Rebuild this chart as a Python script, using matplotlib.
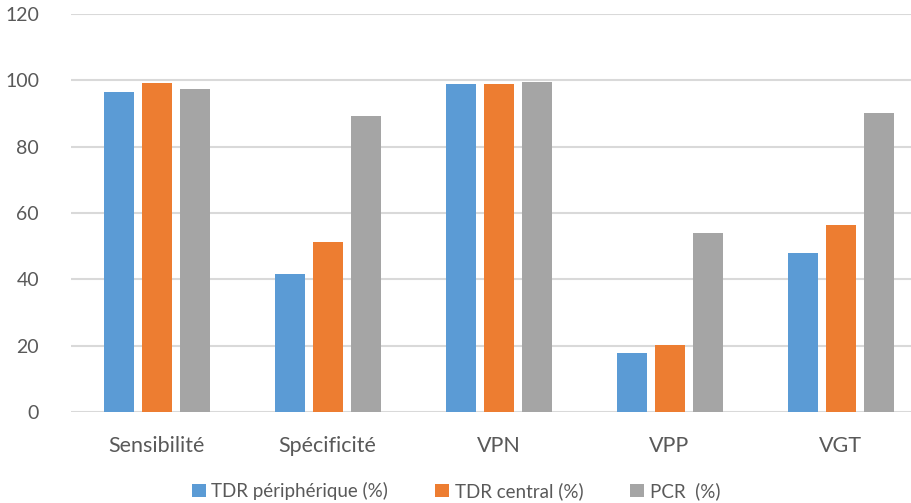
import matplotlib
matplotlib.use("Agg")
import matplotlib.pyplot as plt
import numpy as np

categories = ["Sensibilité", "Spécificité", "VPN", "VPP", "VGT"]
series_names = ["TDR périphérique (%)", "TDR central (%)", "PCR  (%)"]
tdr_peripherique = [96.5, 41.5, 98.9, 17.7, 47.8]
tdr_central = [99.1, 51.2, 98.9, 20.2, 56.3]
pcr = [97.4, 89.2, 99.6, 54.1, 90.1]
yticks = [0, 20, 40, 60, 80, 100, 120]

colors = ["#5b9bd5", "#ed7d31", "#a5a5a5"]
plt.rcParams['font.family'] = ['Lato', 'DejaVu Sans']

fig = plt.figure(figsize=(9.12, 5.03), dpi=100)
ax = fig.add_axes([71/912, 91/503, 855/912, 398/503])

x = np.arange(len(categories))
width = 30/171
step = 38/171
for i, (vals, name) in enumerate(zip([tdr_peripherique, tdr_central, pcr], series_names)):
    ax.bar(x + (i-1)*step, vals, width, color=colors[i], label=name, zorder=3)

ax.set_xlim(-0.5, len(categories)-0.5)
ax.set_ylim(0, 120)
ax.set_yticks(yticks)
ax.set_xticks(x)
ax.set_xticklabels(categories)
ax.yaxis.grid(True, color="#d9d9d9", linewidth=1.5, zorder=0)
ax.set_axisbelow(True)
for s in ax.spines.values():
    s.set_visible(False)
ax.tick_params(axis='both', length=0, labelcolor="#595959")
ax.tick_params(axis='y', pad=23, labelsize=14)
ax.tick_params(axis='x', pad=17, labelsize=15.5)

leg = fig.legend(loc='center', bbox_to_anchor=(0.5, 12/503), ncol=3, frameon=False,
                 fontsize=13.5, handlelength=0.75, handleheight=0.75, handletextpad=0.3,
                 columnspacing=2.5, labelcolor="#595959")
fig.savefig("out.png", dpi=100)
